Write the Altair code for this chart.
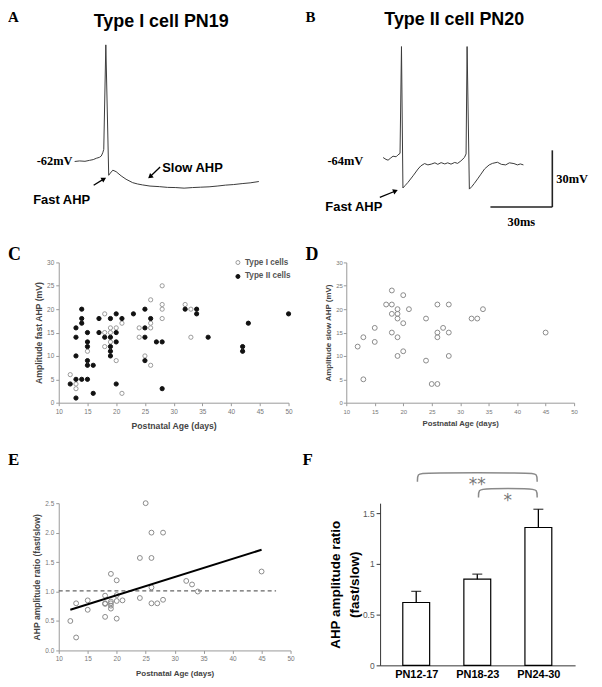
import altair as alt
import pandas as pd

SANS = "Liberation Sans"
SERIF = "Liberation Serif"

# ---------------- Panel A: Type I cell PN19 (time ms, potential mV) ----------------
a_time = [0, 2.4, 5.0, 7.2, 9.0, 10.5, 12.0, 12.9, 13.6, 14.1, 15.1, 16.5, 17.3, 18.5, 20.1,
          22.5, 24.9, 28.1, 30.5, 32.9, 36.5, 41.0, 45.0, 49.0, 53.0, 57.0, 61.0, 65.1, 69.0,
          73.1, 77.0, 81.1, 85.0, 89.2]
a_volt = [-62.0, -61.7, -61.9, -61.4, -61.0, -60.3, -59.8, -59.1, -57.4, -55.6, -0.3, -69.3,
          -68.1, -66.6, -67.4, -69.6, -71.4, -73.2, -73.9, -74.4, -75.0, -75.3, -75.7, -75.8,
          -76.1, -75.8, -75.6, -75.4, -75.0, -74.5, -74.2, -73.7, -73.3, -72.6]

# ---------------- Panel B: Type II cell PN20 ----------------
b_time = [0, 1.4, 2.4, 3.4, 4.8, 6.3, 7.2, 8.2, 8.9, 9.6, 10.6, 12.0, 14.5, 16.9, 18.3, 20.1,
          21.7, 23.3, 25.1, 26.5, 28.1, 29.9, 31.3, 32.9, 34.7, 36.1, 37.7, 39.4, 40.2, 40.7,
          41.8, 42.9, 44.2, 45.8, 47.4, 49.2, 51.4, 53.0, 55.4, 57.3, 59.4, 61.2, 63.4, 65.1,
          66.5, 68.0]
b_volt = [-63.8, -64.8, -65.2, -64.3, -63.1, -63.4, -62.4, -61.6, -5.1, -79.9, -78.7, -77.0,
          -73.5, -69.9, -68.2, -67.0, -67.7, -67.3, -66.6, -67.4, -66.5, -67.2, -66.6, -67.3,
          -66.4, -66.9, -65.6, -63.8, -61.9, -5.1, -80.5, -79.3, -77.5, -75.1, -72.6, -69.8,
          -67.7, -66.9, -66.3, -67.4, -67.7, -66.6, -67.0, -67.7, -67.2, -67.7]
scalebar_ms = 30
scalebar_mv = 30

# ---------------- Panel C: fast AHP amplitude vs age ----------------
c1_age = [12, 13, 13, 15, 18, 18, 18, 19, 19, 19, 20, 20, 21, 21, 24, 24, 25, 26, 26, 26, 26,
          28, 28, 28, 28, 32, 33, 33]
c1_amp = [6, 4, 3, 11, 19, 15, 12, 16, 15, 13, 16, 9, 17, 2, 16, 14, 10, 22, 17, 16, 8,
          25, 21, 20, 18, 21, 20, 14]
c2_age = [12, 13, 13, 13, 13, 13, 14, 14, 14, 14, 15, 15, 15, 15, 15, 15, 16, 16, 17, 17, 18,
          19, 19, 19, 19, 19, 20, 20, 20, 20, 21, 23, 25, 25, 25, 25, 26, 27, 28, 28, 32, 34,
          34, 36, 42, 42, 43, 50]
c2_amp = [4, 1, 5, 10, 14, 16, 20, 18, 17, 5, 15, 13, 12, 9, 8, 5, 8, 2, 18, 15, 14,
          18, 14, 12, 11, 10, 19, 15, 13, 4, 18, 19, 20, 14, 16, 9, 18, 13, 13, 3, 20, 20,
          19, 14, 12, 11, 17, 19]
c_types = ["Type I cells", "Type II cells"]

# ---------------- Panel D: slow AHP amplitude vs age ----------------
d_age = [12, 13, 13, 15, 15, 17, 18, 18, 18, 18, 19, 19, 19, 19, 19, 20, 20, 20, 21, 24, 24,
         25, 26, 26, 26, 26, 27, 28, 28, 28, 32, 33, 34, 45]
d_amp = [12, 14, 5, 16, 13, 21, 24, 21, 19, 15, 20, 19, 18, 14, 10, 23, 17, 11, 20, 18, 9,
         4, 4, 21, 15, 14, 16, 21, 15, 10, 18, 18, 20, 15]

# ---------------- Panel E: AHP ratio vs age ----------------
e_age = [12, 13, 13, 15, 15, 18, 18, 18, 18, 19, 19, 19, 19, 19, 20, 20, 20, 20, 21, 24, 24,
         25, 26, 26, 26, 26, 27, 28, 28, 32, 33, 34, 45]
e_ratio = [0.5, 0.8, 0.22, 0.85, 0.69, 0.93, 0.8, 0.79, 0.57, 1.3, 0.83, 0.8, 0.76, 0.71,
           1.19, 0.94, 0.84, 0.54, 0.85, 1.57, 0.89, 2.5, 2.0, 1.57, 1.07, 0.8, 0.8, 2.0,
           0.86, 1.18, 1.12, 1.0, 1.34]
e_fit_age = [12, 45]
e_fit_ratio = [0.69, 1.71]
e_ref_age = [10, 47.5]
e_ref_ratio = [1.01, 1.01]

# ---------------- Panel F: grouped ratio ----------------
f_groups = ["PN12-17", "PN18-23", "PN24-30"]
f_mean = [0.62, 0.85, 1.36]
f_upper = [0.73, 0.90, 1.54]
f_sig_from = ["PN12-17", "PN18-23"]
f_sig_to = ["PN24-30", "PN24-30"]
f_sig_label = ["**", "*"]
f_sig_level = [1.90, 1.745]


def ptext(label, x, y, **kw):
    return alt.Chart(pd.DataFrame({"label": [label]})).mark_text(**kw).encode(
        x=alt.value(x), y=alt.value(y), text="label:N")


def spacer(x, y):
    # invisible anchor that fixes the extent of a panel for the layout
    return alt.Chart(pd.DataFrame({"s": [0]})).mark_rule(opacity=0, strokeWidth=0.1).encode(
        x=alt.value(x), x2=alt.value(x + 1), y=alt.value(y), y2=alt.value(y))


# ================= Panel A =================
AT = [-7.7, 108.4]
AV = [-97.5, 18.3]
xa = alt.X("t:Q", scale=alt.Scale(domain=AT, nice=False, zero=False), axis=None)
ya = alt.Y("v:Q", scale=alt.Scale(domain=AV, nice=False, zero=False), axis=None)
xa2 = alt.X("t2:Q", scale=alt.Scale(domain=AT, nice=False, zero=False), axis=None)
ya2 = alt.Y("v2:Q", scale=alt.Scale(domain=AV, nice=False, zero=False), axis=None)

trace_a = alt.Chart(pd.DataFrame({"t": a_time, "v": a_volt})).mark_line(
    color="#3a3a3a", strokeWidth=1).encode(x=xa, y=ya)
arr_a = pd.DataFrame({"t": [9.2, 41.4], "v": [-74.6, -64.9], "t2": [14.2, 36.5],
                      "v2": [-71.2, -70.1], "ang": [60, 230]})
shaft_a = alt.Chart(arr_a).mark_rule(color="black", strokeWidth=1.3).encode(
    x=xa, y=ya, x2="t2:Q", y2="v2:Q")
head_a = alt.Chart(arr_a).mark_point(shape="triangle-up", filled=True, color="black",
                                      size=32, opacity=1).encode(
    x=xa2, y=ya2, angle=alt.Angle("ang:Q", scale=None))
mv_a = alt.Chart(pd.DataFrame({"t": [-1], "v": [-61.8], "label": ["-62mV"]})).mark_text(
    font=SERIF, fontWeight="bold", fontSize=12.5, align="right").encode(
    x=xa, y=ya, text="label:N")
lab_a = alt.Chart(pd.DataFrame({"t": [42.4, -20.1], "v": [-65.4, -82.5],
                                "label": ["Slow AHP", "Fast AHP"]})).mark_text(
    font=SANS, fontWeight="bold", fontSize=13, align="left").encode(
    x=xa, y=ya, text="label:N")
panel_a = alt.layer(
    trace_a, shaft_a, head_a, mv_a, lab_a,
    ptext("A", -51, 0, font=SERIF, fontWeight="bold", fontSize=15, align="left", baseline="top"),
    ptext("Type I cell PN19", 103, 3, font=SANS, fontWeight="bold", fontSize=18,
          align="center", baseline="top"),
    spacer(-51, 100),
).properties(width=241, height=220)

# ================= Panel B =================
BT = [-41.0, 102.2]
BV = [-101.4, 14.4]
xb = alt.X("t:Q", scale=alt.Scale(domain=BT, nice=False, zero=False), axis=None)
yb = alt.Y("v:Q", scale=alt.Scale(domain=BV, nice=False, zero=False), axis=None)
xb2 = alt.X("t2:Q", scale=alt.Scale(domain=BT, nice=False, zero=False), axis=None)
yb2 = alt.Y("v2:Q", scale=alt.Scale(domain=BV, nice=False, zero=False), axis=None)

trace_b = alt.Chart(pd.DataFrame({"t": b_time, "v": b_volt})).mark_line(
    color="#3a3a3a", strokeWidth=1).encode(x=xb, y=yb)
sb_t, sb_v = 82, -90
scale_df = pd.DataFrame({"t": [sb_t - scalebar_ms, sb_t], "v": [sb_v, sb_v],
                         "t2": [sb_t, sb_t], "v2": [sb_v, sb_v + scalebar_mv]})
scale_b = alt.Chart(scale_df).mark_rule(color="#222", strokeWidth=1.6).encode(
    x=xb, y=yb, x2="t2:Q", y2="v2:Q")
scale_txt1 = alt.Chart(pd.DataFrame({"t": [sb_t + 1.9], "v": [sb_v + scalebar_mv / 2],
                                     "label": [f"{scalebar_mv}mV"]})).mark_text(
    font=SERIF, fontWeight="bold", fontSize=12.5, align="left", baseline="middle").encode(
    x=xb, y=yb, text="label:N")
scale_txt2 = alt.Chart(pd.DataFrame({"t": [sb_t - scalebar_ms / 2], "v": [sb_v - 7.9],
                                     "label": [f"{scalebar_ms}ms"]})).mark_text(
    font=SERIF, fontWeight="bold", fontSize=12.5, align="center").encode(
    x=xb, y=yb, text="label:N")
arr_b = pd.DataFrame({"t": [-1.6], "v": [-84.9], "t2": [6.0], "v2": [-81.5], "ang": [68]})
shaft_b = alt.Chart(arr_b).mark_rule(color="black", strokeWidth=1.3).encode(
    x=xb, y=yb, x2="t2:Q", y2="v2:Q")
head_b = alt.Chart(arr_b).mark_point(shape="triangle-up", filled=True, color="black",
                                      size=32, opacity=1).encode(
    x=xb2, y=yb2, angle=alt.Angle("ang:Q", scale=None))
mv_b = alt.Chart(pd.DataFrame({"t": [-9.6], "v": [-65.6], "label": ["-64mV"]})).mark_text(
    font=SERIF, fontWeight="bold", fontSize=12.5, align="right").encode(
    x=xb, y=yb, text="label:N")
lab_b = alt.Chart(pd.DataFrame({"t": [-28.0], "v": [-89.8], "label": ["Fast AHP"]})).mark_text(
    font=SANS, fontWeight="bold", fontSize=13, align="left").encode(
    x=xb, y=yb, text="label:N")
panel_b = alt.layer(
    trace_b, scale_b, scale_txt1, scale_txt2, shaft_b, head_b, mv_b, lab_b,
    ptext("B", 7, 0, font=SERIF, fontWeight="bold", fontSize=15, align="left", baseline="top"),
    ptext("Type II cell PN20", 156.5, 1, font=SANS, fontWeight="bold", fontSize=18,
          align="center", baseline="top"),
).properties(width=297, height=220)


# ================= helpers for scatter panels =================
def age_x(label_size, title_size, label_pad, title_pad):
    return alt.X("age:Q", scale=alt.Scale(domain=[10, 50], nice=False, zero=False),
                 axis=alt.Axis(values=list(range(10, 51, 5)), title="Postnatal Age (days)",
                               grid=False, labelFontSize=label_size, labelColor="#777",
                               labelFont=SANS, labelFlush=False, labelOverlap=False,
                               tickColor="#999", domainColor="#999", tickSize=3,
                               labelPadding=label_pad, titleFont=SANS, titleFontSize=title_size,
                               titleFontWeight="bold", titleColor="#444", titlePadding=title_pad))


def val_y(field, domain, values, title, label_size, title_size, label_pad, title_pad, fmt=None):
    ax = dict(values=values, title=title, grid=False, labelFontSize=label_size,
              labelColor="#777", labelFont=SANS, labelOverlap=False, tickColor="#999",
              domainColor="#999", tickSize=3, labelPadding=label_pad, titleFont=SANS,
              titleFontSize=title_size, titleFontWeight="bold", titleColor="#444",
              titlePadding=title_pad)
    if fmt:
        ax["format"] = fmt
    return alt.Y(f"{field}:Q", scale=alt.Scale(domain=domain, nice=False, zero=False),
                 axis=alt.Axis(**ax))


# ================= Panel C =================
c_df = pd.DataFrame({"age": c1_age + c2_age, "amp": c1_amp + c2_amp,
                     "type": [c_types[0]] * len(c1_age) + [c_types[1]] * len(c2_age)})
leg = dict(title=None, orient="none", legendX=176, legendY=-4, labelFontSize=8.2,
           labelFont=SANS, labelFontWeight="bold", labelColor="#555", symbolSize=16,
           symbolStrokeWidth=1, rowPadding=4, labelOffset=3, padding=0)
pts_c = alt.Chart(c_df).mark_point(shape="circle", filled=True, size=18, strokeWidth=1,
                                   opacity=1).encode(
    x=age_x(6.5, 8.7, 3, 6),
    y=val_y("amp", [0, 30], list(range(0, 31, 5)), "Amplitude fast AHP (mV)", 6.5, 8.7, 2, 3),
    stroke=alt.Stroke("type:N", scale=alt.Scale(domain=c_types, range=["#9a9a9a", "#111111"]),
                      legend=alt.Legend(**leg)),
    fill=alt.Fill("type:N", scale=alt.Scale(domain=c_types, range=["white", "#111111"]),
                  legend=alt.Legend(**leg)),
)
panel_c = alt.layer(
    pts_c,
    ptext("C", -51, -7, font=SERIF, fontWeight="bold", fontSize=18, align="left"),
    spacer(-51, -28), spacer(-51, 174),
).properties(width=231, height=141)

# ================= Panel D =================
pts_d = alt.Chart(pd.DataFrame({"age": d_age, "amp": d_amp})).mark_point(
    shape="circle", filled=False, color="#8a8a8a", size=24, strokeWidth=1, opacity=1).encode(
    x=age_x(6, 7.8, 3, 5),
    y=val_y("amp", [0, 30], list(range(0, 31, 5)), "Amplitude slow AHP (mV)", 6, 8, 1, 3),
)
panel_d = alt.layer(
    pts_d,
    ptext("D", -41, -7, font=SERIF, fontWeight="bold", fontSize=18, align="left"),
).properties(width=229, height=141)

# ================= Panel E =================
ex = age_x(6.5, 8, 2, 8)
ey = val_y("ratio", [0, 2.5], [0, 0.5, 1.0, 1.5, 2.0, 2.5], "AHP amplitude ratio (fast/slow)",
           6.5, 8.6, 2, 3, fmt=".1f")
ref_e = alt.Chart(pd.DataFrame({"age": e_ref_age, "ratio": e_ref_ratio})).mark_line(
    color="#666", strokeWidth=1.3, strokeDash=[4, 3]).encode(x=ex, y=ey)
pts_e = alt.Chart(pd.DataFrame({"age": e_age, "ratio": e_ratio})).mark_point(
    shape="circle", filled=False, color="#8a8a8a", size=24, strokeWidth=1, opacity=1).encode(
    x=ex, y=ey)
fit_e = alt.Chart(pd.DataFrame({"age": e_fit_age, "ratio": e_fit_ratio})).mark_line(
    color="black", strokeWidth=2).encode(x=ex, y=ey)
panel_e = alt.layer(
    ref_e, pts_e, fit_e,
    ptext("E", -51, -43, font=SERIF, fontWeight="bold", fontSize=17, align="left"),
    spacer(-51, -61.5),
).properties(width=233, height=148)

# ================= Panel F =================
f_df = pd.DataFrame({"pos": list(range(len(f_groups))), "group": f_groups,
                     "mean": f_mean, "upper": f_upper})
label_expr = "[" + ",".join(f"'{g}'" for g in f_groups) + "][datum.value]"
fx = alt.X("pos:Q", scale=alt.Scale(domain=[-0.51, 2.52], nice=False, zero=False),
           axis=alt.Axis(values=list(range(len(f_groups))), labelExpr=label_expr, title=None,
                         ticks=False, grid=False, labelFont=SANS, labelFontSize=11,
                         labelFontWeight="bold", labelColor="black", labelPadding=3,
                         domainColor="#333", labelFlush=False, labelOverlap=False))
fy = alt.Y("mean:Q", scale=alt.Scale(domain=[0, 1.6], nice=False, zero=True),
           axis=alt.Axis(values=[0, 0.5, 1, 1.5], labelExpr="datum.value + ''",
                         title=["AHP amplitude ratio", "(fast/slow)"], grid=False,
                         labelFont=SANS, labelFontSize=8.5, labelColor="#555",
                         tickColor="#333", domainColor="#333", tickSize=4, labelPadding=2,
                         titleFont=SANS, titleFontSize=13.5, titleFontWeight="bold",
                         titleColor="black", titleLineHeight=19, titlePadding=1))
bars_f = alt.Chart(f_df).mark_bar(fill="white", stroke="black", strokeWidth=1.2, size=27).encode(
    x=fx, y=fy)
err_f = alt.Chart(f_df).mark_rule(color="black", strokeWidth=1.3).encode(
    x="pos:Q", y="mean:Q", y2="upper:Q")
cap_f = alt.Chart(f_df).mark_tick(color="black", thickness=1.3, size=10,
                                  orient="horizontal").encode(x="pos:Q", y="upper:Q")

rows = []
for k, (a, b, lvl) in enumerate(zip(f_sig_from, f_sig_to, f_sig_level)):
    xl = f_groups.index(a) + 0.02
    xr = f_groups.index(b) - 0.02
    drop = 0.088
    pts = [(xl, lvl - drop), (xl, lvl - 0.01), (xl + 0.1, lvl), (xr - 0.1, lvl),
           (xr, lvl - 0.01), (xr, lvl - drop)]
    for o, (px, py) in enumerate(pts):
        rows.append({"k": k, "o": o, "pos": px, "mean": py})
br_f = alt.Chart(pd.DataFrame(rows)).mark_line(color="#8a8a8a", strokeWidth=1.5,
                                               interpolate="basis").encode(
    x="pos:Q", y="mean:Q", detail="k:N", order="o:Q")
stars = pd.DataFrame({
    "pos": [(f_groups.index(a) + f_groups.index(b)) / 2 for a, b in zip(f_sig_from, f_sig_to)],
    "mean": [lvl - 0.12 for lvl in f_sig_level], "label": f_sig_label})
star_f = alt.Chart(stars).mark_text(font="DejaVu Sans", fontSize=17, color="#777").encode(
    x="pos:Q", y="mean:Q", text="label:N")
panel_f = alt.layer(
    bars_f, err_f, cap_f, br_f, star_f,
    ptext("F", -78, -43.5, font=SERIF, fontWeight="bold", fontSize=17, align="left"),
).properties(width=196, height=163)

# ================= assemble =================
row1 = alt.hconcat(panel_a, panel_b, spacing=0, bounds="flush")
row2 = alt.hconcat(panel_c, panel_d, spacing=58, bounds="flush").resolve_scale(
    stroke="independent", fill="independent").resolve_legend(
    stroke="independent", fill="independent")
row3 = alt.hconcat(panel_e, panel_f, spacing=90, bounds="flush")

chart = alt.vconcat(row1, row2, row3, spacing=6).resolve_scale(
    stroke="independent", fill="independent").resolve_legend(
    stroke="independent", fill="independent").properties(
    padding=0, background="white"
).configure(font=SANS, view=alt.ViewConfig(stroke=None))

chart.save("out.html", embed_options={"renderer": "svg", "actions": False})
